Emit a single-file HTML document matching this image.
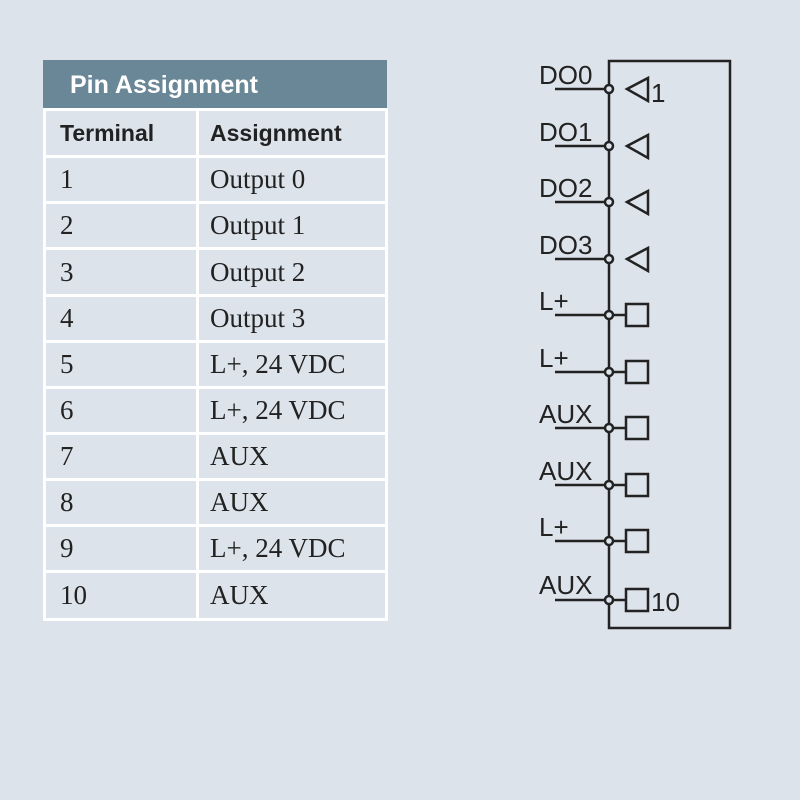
<!DOCTYPE html>
<html><head><style>
body{margin:0;width:800px;height:800px;background:#dce3ea;position:relative;overflow:hidden}
.hdr{position:absolute;left:43px;top:60px;width:344px;height:49px;background:#6a8797;color:#fff;font:bold 25px "Liberation Sans",sans-serif;line-height:50px;box-sizing:border-box;padding-left:27px}
table{position:absolute;left:43px;top:108px;border-collapse:collapse;width:345px}
td{border:3px solid #fff;height:40px;padding:0 0 0 14px;font:27px "Liberation Serif",serif;color:#222;box-sizing:border-box}
td+td{padding-left:11px}
tr.h td{font:bold 23px "Liberation Sans",sans-serif;height:47px}
td:first-child{width:153px;border-left:3px solid #fff}
</style></head><body>
<div class="hdr">Pin Assignment</div>
<table>
<tr class="h"><td>Terminal</td><td>Assignment</td></tr>
<tr><td style="height:46px">1</td><td>Output 0</td></tr>
<tr><td style="height:46px">2</td><td>Output 1</td></tr>
<tr><td style="height:47px">3</td><td>Output 2</td></tr>
<tr><td style="height:46px">4</td><td>Output 3</td></tr>
<tr><td style="height:46px">5</td><td>L+, 24 VDC</td></tr>
<tr><td style="height:46px">6</td><td>L+, 24 VDC</td></tr>
<tr><td style="height:46px">7</td><td>AUX</td></tr>
<tr><td style="height:46px">8</td><td>AUX</td></tr>
<tr><td style="height:46px">9</td><td>L+, 24 VDC</td></tr>
<tr><td style="height:48px">10</td><td>AUX</td></tr>
</table>
<svg width="800" height="800" style="position:absolute;left:0;top:0" font-family="Liberation Sans, sans-serif" font-size="26" fill="#222">
<rect x="609" y="61" width="121" height="567" fill="none" stroke="#222" stroke-width="2.5"/>
<g stroke="#222" stroke-width="2.5" fill="#dce3ea">
<line x1="555" y1="89" x2="605" y2="89"/><circle cx="609" cy="89" r="4"/><polygon points="627,89 648,78 648,101"/>
<line x1="555" y1="146" x2="605" y2="146"/><circle cx="609" cy="146" r="4"/><polygon points="627,146 648,135 648,158"/>
<line x1="555" y1="202" x2="605" y2="202"/><circle cx="609" cy="202" r="4"/><polygon points="627,202 648,191 648,214"/>
<line x1="555" y1="259" x2="605" y2="259"/><circle cx="609" cy="259" r="4"/><polygon points="627,259 648,248 648,271"/>
<line x1="555" y1="315" x2="605" y2="315"/><circle cx="609" cy="315" r="4"/><line x1="613" y1="315" x2="626" y2="315"/><rect x="626" y="304" width="22" height="22"/>
<line x1="555" y1="372" x2="605" y2="372"/><circle cx="609" cy="372" r="4"/><line x1="613" y1="372" x2="626" y2="372"/><rect x="626" y="361" width="22" height="22"/>
<line x1="555" y1="428" x2="605" y2="428"/><circle cx="609" cy="428" r="4"/><line x1="613" y1="428" x2="626" y2="428"/><rect x="626" y="417" width="22" height="22"/>
<line x1="555" y1="485" x2="605" y2="485"/><circle cx="609" cy="485" r="4"/><line x1="613" y1="485" x2="626" y2="485"/><rect x="626" y="474" width="22" height="22"/>
<line x1="555" y1="541" x2="605" y2="541"/><circle cx="609" cy="541" r="4"/><line x1="613" y1="541" x2="626" y2="541"/><rect x="626" y="530" width="22" height="22"/>
<line x1="555" y1="600" x2="605" y2="600"/><circle cx="609" cy="600" r="4"/><line x1="613" y1="600" x2="626" y2="600"/><rect x="626" y="589" width="22" height="22"/>
</g>
<text x="539" y="84">DO0</text><text x="651" y="102">1</text>
<text x="539" y="141">DO1</text>
<text x="539" y="197">DO2</text>
<text x="539" y="254">DO3</text>
<text x="539" y="310">L+</text>
<text x="539" y="367">L+</text>
<text x="539" y="423">AUX</text>
<text x="539" y="480">AUX</text>
<text x="539" y="536">L+</text>
<text x="539" y="594">AUX</text><text x="651" y="611">10</text>
</svg>
</body></html>
